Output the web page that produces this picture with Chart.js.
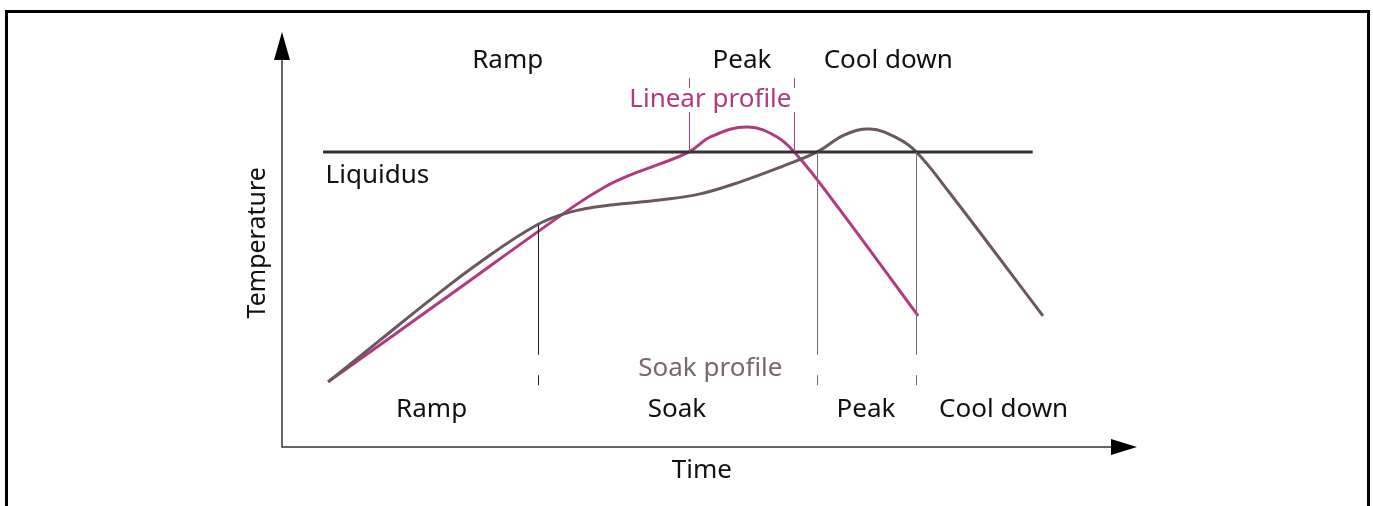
<!DOCTYPE html>
<html>
<head>
<meta charset="utf-8">
<script src="https://cdn.jsdelivr.net/npm/chart.js@4.4.1/dist/chart.umd.min.js"></script>
<style>
  body { margin: 0; background: #fff; overflow: hidden; }
  #frame { position: absolute; left: 5px; top: 10px; width: 1359px; height: 520px; border: 3px solid #000; }
  #graficoPerfil { position: absolute; left: 0; top: 0; }
</style>
</head>
<body>
<div id="frame"></div>
<canvas id="graficoPerfil" width="1373" height="506"></canvas>
<script>
/* DADOS (tempo e temperatura em unidades arbitrarias, 0-100) */

const tempoSoak = [5.4, 11.5, 17.3, 23.2, 29.8, 33.7, 38.4, 44.2, 48.9, 53.6, 58.6, 62.6, 65.8, 68.8, 71.9, 74.2, 78.1, 89.0];
const tempSoak  = [15.7, 25.8, 35.4, 44.6, 53.5, 56.6, 58.3, 59.5, 61.0, 63.9, 67.7, 71.1, 75.2, 76.6, 74.5, 71.1, 61.2, 31.6];

const tempoLinear = [5.4, 18.8, 34.0, 37.8, 40.7, 44.2, 47.6, 50.3, 54.5, 57.9, 60.2, 64.4, 74.4];
const tempLinear  = [15.7, 35.4, 57.8, 62.7, 65.5, 68.2, 71.1, 74.9, 77.1, 74.7, 70.4, 59.5, 31.6];

const liquidusTempo = [4.8, 87.8];
const liquidusTemp = 71.1;

// limites das fases: [tempo, temperatura onde a linha comeca]
const fasesSoak = [[29.9, 53.5], [62.6, 71.1], [74.2, 71.1]];
const fasesLinear = [[47.6, 71.1], [59.9, 71.1]];

const fasesTopo = ['Ramp', 'Peak', 'Cool down'];
const fasesTopoX = [26.4, 53.8, 70.9];
const fasesBaixo = ['Ramp', 'Soak', 'Peak', 'Cool down'];
const fasesBaixoX = [17.5, 46.2, 68.3, 84.4];

const corLinear = '#b03a80';
const corSoak = '#6b585e';
const fonte = '26px "Noto Sans"';

function pontos(xs, ys) {
    return xs.map((x, i) => ({ x: x, y: ys[i] }));
}

/* PLUGIN: eixos, linhas das fases e textos */

const desenhoExtra = {
    id: 'desenhoExtra',
    afterDatasetsDraw(chart) {
        const ctx = chart.ctx;
        const sx = chart.scales.x;
        const sy = chart.scales.y;
        const area = chart.chartArea;
        ctx.save();

        // eixos
        ctx.strokeStyle = '#333';
        ctx.fillStyle = '#000';
        ctx.lineWidth = 1.5;
        ctx.beginPath();
        ctx.moveTo(area.left, area.top + 20);
        ctx.lineTo(area.left, area.bottom);
        ctx.lineTo(area.right - 20, area.bottom);
        ctx.stroke();
        ctx.beginPath();
        ctx.moveTo(area.left, area.top);
        ctx.lineTo(area.left - 8, area.top + 28);
        ctx.lineTo(area.left + 8, area.top + 28);
        ctx.closePath();
        ctx.fill();
        ctx.beginPath();
        ctx.moveTo(area.right, area.bottom);
        ctx.lineTo(area.right - 26, area.bottom - 8);
        ctx.lineTo(area.right - 26, area.bottom + 8);
        ctx.closePath();
        ctx.fill();

        // linhas das fases (soak)
        ctx.lineWidth = 1;
        fasesSoak.forEach((f, i) => {
            const x = Math.round(sx.getPixelForValue(f[0])) + 0.5;
            ctx.strokeStyle = i == 0 ? '#222' : '#7d6a70';
            ctx.beginPath();
            ctx.moveTo(x, sy.getPixelForValue(f[1]));
            ctx.lineTo(x, sy.getPixelForValue(22.2));
            ctx.moveTo(x, sy.getPixelForValue(17.3));
            ctx.lineTo(x, sy.getPixelForValue(14.9));
            ctx.stroke();
        });

        // linhas das fases (linear)
        ctx.strokeStyle = corLinear;
        fasesLinear.forEach(f => {
            const x = Math.round(sx.getPixelForValue(f[0])) + 0.5;
            ctx.beginPath();
            ctx.moveTo(x, sy.getPixelForValue(f[1]));
            ctx.lineTo(x, sy.getPixelForValue(80.7));
            ctx.moveTo(x, sy.getPixelForValue(88.9));
            ctx.lineTo(x, sy.getPixelForValue(86.5));
            ctx.stroke();
        });

        // textos
        ctx.font = fonte;
        ctx.textAlign = 'center';
        ctx.textBaseline = 'middle';
        ctx.fillStyle = '#111';
        fasesTopo.forEach((t, i) => ctx.fillText(t, sx.getPixelForValue(fasesTopoX[i]), sy.getPixelForValue(93.2)));
        fasesBaixo.forEach((t, i) => ctx.fillText(t, sx.getPixelForValue(fasesBaixoX[i]), sy.getPixelForValue(9.1)));
        ctx.fillText('Time', sx.getPixelForValue(49.1), sy.getPixelForValue(-5.6));

        ctx.fillStyle = corLinear;
        ctx.fillText('Linear profile', sx.getPixelForValue(50.1), sy.getPixelForValue(83.6));
        ctx.fillStyle = '#7a666c';
        ctx.fillText('Soak profile', sx.getPixelForValue(50.1), sy.getPixelForValue(18.8));

        ctx.fillStyle = '#111';
        ctx.textAlign = 'left';
        ctx.fillText('Liquidus', sx.getPixelForValue(5.1), sy.getPixelForValue(65.3));

        ctx.translate(sx.getPixelForValue(-2.8), sy.getPixelForValue(49.2));
        ctx.rotate(-Math.PI / 2);
        ctx.textAlign = 'center';
        ctx.font = '25px "Noto Sans"';
        ctx.fillText('Temperature', 0, 0);

        ctx.restore();
    }
};

/* GRAFICO */

const graficoPerfil = document.querySelector('#graficoPerfil');

new Chart(graficoPerfil, {
    type: 'line',
    data: {
        datasets: [{
            label: 'Liquidus',
            data: pontos(liquidusTempo, [liquidusTemp, liquidusTemp]),
            borderColor: '#333',
            borderWidth: 3,
            pointRadius: 0
        }, {
            label: 'Soak profile',
            data: pontos(tempoSoak, tempSoak),
            borderColor: corSoak,
            borderWidth: 3,
            pointRadius: 0,
            tension: 0.4
        }, {
            label: 'Linear profile',
            data: pontos(tempoLinear, tempLinear),
            borderColor: corLinear,
            borderWidth: 3,
            pointRadius: 0,
            tension: 0.4
        }]
    },
    options: {
        responsive: false,
        animation: false,
        devicePixelRatio: 1,
        layout: { padding: { left: 282, right: 236, top: 32, bottom: 59 } },
        plugins: { legend: { display: false }, tooltip: { enabled: false } },
        scales: {
            x: { type: 'linear', min: 0, max: 100, display: false },
            y: { type: 'linear', min: 0, max: 100, display: false }
        }
    },
    plugins: [desenhoExtra]
});
</script>
</body>
</html>
